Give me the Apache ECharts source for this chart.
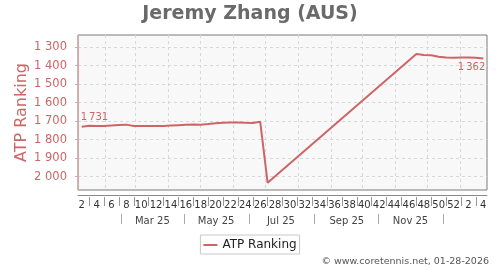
<!DOCTYPE html>
<html>
<head>
<meta charset="utf-8">
<script src="https://cdn.jsdelivr.net/npm/echarts@6/dist/echarts.min.js"></script>
<style>html,body{margin:0;padding:0;background:#fff}#c{width:500px;height:270px}</style>
</head>
<body>
<div id="c"></div>
<script>
// ---- data ----
const chartTitle = 'Jeremy Zhang (AUS)';
const seriesName = 'ATP Ranking';
const credit = '\u00A9 www.coretennis.net, 01-28-2026';
// ISO weeks from week 2 of 2025 to week 4 of 2026
const weeks = [2,3,4,5,6,7,8,9,10,11,12,13,14,15,16,17,18,19,20,21,22,23,24,25,26,27,28,29,30,31,32,33,34,35,36,37,38,39,40,41,42,43,44,45,46,47,48,49,50,51,52,1,2,3,4];
const ranks = [1731,1725,1726,1727,1724,1721,1719,1726,1727,1727,1727,1726,1724,1722,1720,1718,1719,1716,1712,1709,1708,1707,1709,1710,1703,
  2033,
  null,null,null,null,null,null,null,null,null,null,null,null,null,null,null,null,null,null,null,
  1338,1343,1344,1352,1357,1358,1357,1356,1358,1362];
const yTicks = [1300,1400,1500,1600,1700,1800,1900,2000];
const axisStart = '2025-01-06';
const axisEnd = '2026-01-26';
const monthGridDates = ['2025-02-01','2025-03-01','2025-04-01','2025-05-01','2025-06-01','2025-07-01','2025-08-01','2025-09-01','2025-10-01','2025-11-01','2025-12-01','2026-01-01'];
const monthSepDates = ['2025-02-16','2025-04-16','2025-06-16','2025-08-16','2025-10-16','2025-12-16'];
const monthLabelDates = ['2025-03-17','2025-05-16','2025-07-16','2025-09-16','2025-11-15'];
const monthLabels = ['Mar 25','May 25','Jul 25','Sep 25','Nov 25'];

// ---- helpers ----
const DAY = 86400000;
const t0 = Date.parse(axisStart);
const dayOf = s => (Date.parse(s) - t0) / DAY;
const fmtSep = sep => v => { v = Math.round(v); return v >= 1000 ? Math.floor(v/1000) + sep + String(v % 1000).padStart(3,'0') : String(v); };
const FONT = 'DejaVu Sans';
const RED = '#cc6666';

const lastIdx = ranks.length - 1;
const seriesData = ranks.map((v, i) => {
  if (i === 0) return {value: v, label: {show: true, position: 'top', align: 'left', distance: 4, offset: [-1, 0]}};
  if (i === lastIdx) return {value: v, label: {show: true, position: 'bottom', align: 'right', distance: 4, offset: [2, 0]}};
  return v;
});
const labelDays = monthLabelDates.map(dayOf);
// separator positions (in category units) at odd weeks, between the even-week labels
const weekSeps = [];
weeks.forEach((w, i) => { if (w % 2 === 1) weekSeps.push(i + 0.5); });

const chart = echarts.init(document.getElementById('c'), null, {renderer: 'canvas'});
chart.setOption({
  animation: false,
  backgroundColor: '#fff',
  textStyle: {fontFamily: FONT},
  title: [
    {text: chartTitle, left: 'center', top: 5, padding: 0,
     textStyle: {fontFamily: FONT, fontSize: 19, fontWeight: 'bold', color: '#6a6a6a'}},
    {text: credit, right: 11, bottom: 3, padding: 0,
     textStyle: {fontFamily: FONT, fontSize: 9.5, fontWeight: 'normal', color: '#555'}}
  ],
  legend: {
    data: [{name: seriesName, icon: 'rect'}],
    left: 'center', top: 235, padding: [4, 3, 3, 3],
    itemWidth: 14, itemHeight: 2, itemGap: 5,
    borderColor: '#c8c8c8', borderWidth: 1, backgroundColor: '#fff',
    textStyle: {fontFamily: FONT, fontSize: 12, color: '#222'}
  },
  grid: {left: 78, right: 13, top: 35, bottom: 80, show: true,
         backgroundColor: '#f8f8f8', borderColor: '#7a7a7a', borderWidth: 1, containLabel: false},
  xAxis: [
    { // weeks (labels + axis line)
      type: 'category', data: weeks.map(String), boundaryGap: true, position: 'bottom', offset: 5,
      axisLine: {show: true, lineStyle: {color: '#8a8a8a', width: 1}},
      axisTick: {show: false},
      axisLabel: {interval: (i, v) => Number(v) % 2 === 0, margin: 5, hideOverlap: false,
                  fontFamily: FONT, fontSize: 10, color: '#333'},
      splitLine: {show: false}
    },
    { // month row
      type: 'value', min: 0, max: dayOf(axisEnd), position: 'bottom', offset: 24,
      axisLine: {show: false},
      axisTick: {show: true, length: 10, customValues: monthSepDates.map(dayOf), lineStyle: {color: '#aaa'}},
      axisLabel: {show: true, customValues: labelDays, margin: 2,
                  formatter: v => { const k = labelDays.findIndex(d => Math.abs(d - v) < 0.01); return k >= 0 ? monthLabels[k] : ''; },
                  fontFamily: FONT, fontSize: 10, color: '#444'},
      splitLine: {show: false}
    },
    { // monthly gridlines
      type: 'value', min: 0, max: dayOf(axisEnd), position: 'bottom',
      axisLine: {show: false}, axisLabel: {show: false},
      axisTick: {show: false, customValues: monthGridDates.map(dayOf)},
      splitLine: {show: true, lineStyle: {color: '#d8d8d8', type: [3, 3], width: 1}}
    },
    { // week separators
      type: 'value', min: 0, max: weeks.length, position: 'bottom', offset: 7,
      axisLine: {show: false}, axisLabel: {show: false},
      axisTick: {show: true, length: 9, customValues: weekSeps, lineStyle: {color: '#999'}},
      splitLine: {show: false}
    }
  ],
  yAxis: {
    type: 'value', inverse: true, min: 1235, max: 2072, offset: 5,
    name: seriesName, nameLocation: 'middle', nameGap: 43, nameMoveOverlap: false,
    nameTextStyle: {fontFamily: FONT, fontSize: 16, color: RED},
    axisLine: {show: true, lineStyle: {color: '#dba5a5', width: 1}},
    axisTick: {show: true, length: 3, customValues: yTicks, lineStyle: {color: '#dba5a5'}},
    axisLabel: {customValues: yTicks, formatter: fmtSep(' '), margin: 6, fontFamily: FONT, fontSize: 11.5, color: RED},
    splitLine: {show: true, lineStyle: {color: '#d8d8d8', type: [3, 3], width: 1}}
  },
  series: [{
    name: seriesName, type: 'line', xAxisIndex: 0, yAxisIndex: 0,
    data: seriesData, connectNulls: true, showSymbol: true, symbol: 'circle', symbolSize: 0,
    lineStyle: {color: RED, width: 2}, itemStyle: {color: RED},
    label: {show: false, formatter: p => fmtSep('\u2009')(p.value), fontFamily: FONT, fontSize: 10, color: RED},
    emphasis: {disabled: true}
  }]
});
</script>
</body>
</html>
